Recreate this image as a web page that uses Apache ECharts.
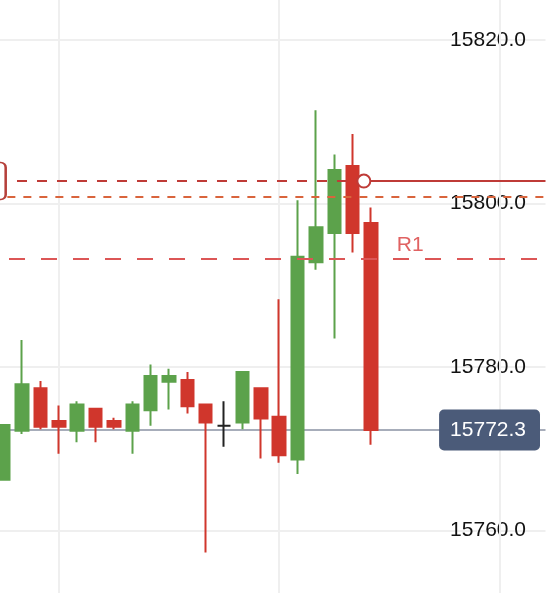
<!DOCTYPE html>
<html><head><meta charset="utf-8">
<script src="https://cdn.jsdelivr.net/npm/echarts@6/dist/echarts.min.js"></script>
<style>html,body{margin:0;padding:0;background:#fff}#c{width:546px;height:593px}</style>
</head><body><div id="c"></div>
<script>
// ---- data ----
const categories = ['1','2','3','4','5','6','7','8','9','10','11','12','13','14','15','16','17','18','19','20','21','22','23','24','25','26','27','28','29','30'];
const opens  = [15766.2,15772.2,15777.4,15773.4,15772.2,15774.9,15773.4,15772.2,15774.7,15778.2,15778.4,15775.4,15772.8,15773.2,15777.4,15773.9,15768.7,15792.8,15796.4,15804.6,15797.6];
const closes = [15772.9,15777.9,15772.7,15772.7,15775.4,15772.7,15772.7,15775.4,15778.9,15778.9,15775.2,15773.2,15772.8,15779.4,15773.7,15769.2,15793.5,15797.1,15804.1,15796.4,15772.3];
const lows   = [15766.2,15771.8,15772.4,15769.4,15770.8,15770.8,15772.4,15769.4,15772.8,15774.8,15774.3,15757.3,15770.25,15772.4,15768.8,15768.3,15766.9,15791.9,15783.5,15794.0,15770.5];
const highs  = [15772.9,15783.3,15778.3,15775.3,15775.8,15774.9,15773.8,15775.8,15780.3,15779.8,15779.4,15775.4,15775.8,15779.4,15777.4,15788.3,15800.4,15811.4,15806.0,15808.5,15799.5];
const yMin = 15740, yMax = 15840, yStep = 20;
const lastPrice = 15772.3;
const verticalGridIdx = [3, 15, 27];
const alertLevel = 15802.75, alertStartIdx = 0.725, alertIdx = 19.61, xEndIdx = 29.5;
const level2 = 15800.8, level2StartIdx = 0.2;
const r1Level = 15793.2, r1StartIdx = 0.29, r1LabelIdx = 22.13, r1Text = 'R1';

const FONT = "'Liberation Sans', Arial, Helvetica, sans-serif";
const GREEN = '#5ca24b', RED = '#d0362c';
const BOX_PATH = 'path://M5,0 H55 A5,5 0 0 1 60,5 V33 A5,5 0 0 1 55,38 H5 A5,5 0 0 1 0,33 V5 A5,5 0 0 1 5,0 Z';

const candleData = opens.map((o, i) => [o, closes[i], lows[i], highs[i]]);

const chart = echarts.init(document.getElementById('c'), null, {renderer: 'canvas'});
chart.setOption({
  animation: false,
  backgroundColor: '#ffffff',
  grid: {left: -5.5, right: 0.5, top: -123.5, bottom: -101, containLabel: false, outerBoundsMode: 'none'},
  xAxis: [
    {type: 'category', data: categories, boundaryGap: true,
     axisLine: {show: false}, axisTick: {show: false}, axisLabel: {show: false}, splitLine: {show: false}},
    {type: 'value', min: -0.5, max: 29.5, show: false}
  ],
  yAxis: {
    type: 'value', position: 'right', min: yMin, max: yMax, interval: yStep,
    axisLine: {show: false}, axisTick: {show: false},
    axisLabel: {inside: true, margin: 19.5, color: '#111', fontSize: 21, fontFamily: FONT,
                formatter: v => v.toFixed(1)},
    splitLine: {show: true, lineStyle: {color: '#efefef', width: 2}}
  },
  series: [
    {
      type: 'candlestick', xAxisIndex: 0, data: candleData, barWidth: 13, z: 2,
      itemStyle: {color: GREEN, color0: RED, borderColor: GREEN, borderColor0: RED,
                  borderColorDoji: '#222222', borderWidth: 2},
      markLine: {
        silent: true, symbol: ['none', 'none'], z: 1, animation: false,
        data: [
          ...verticalGridIdx.map(i => ({xAxis: i, lineStyle: {color: '#efefef', width: 2, type: 'solid'}, label: {show: false}})),
          {yAxis: lastPrice, lineStyle: {color: '#a7adba', width: 2, type: 'solid'},
           label: {show: true, position: 'insideEnd', distance: 5.5, formatter: p => p.value.toFixed(1),
                   color: '#ffffff', fontSize: 21, fontFamily: FONT, lineHeight: 21,
                   backgroundColor: '#4b5b79', borderRadius: 5, padding: [10, 14, 10, 11]}}
        ]
      }
    },
    {
      type: 'line', xAxisIndex: 1, z: 5, silent: true, symbol: 'none',
      data: [[alertStartIdx, alertLevel], [alertIdx, alertLevel]],
      lineStyle: {color: '#bf3b37', width: 2, type: [10, 10]},
      markPoint: {
        silent: true, z: 6, animation: false,
        data: [{coord: [0, alertLevel], symbol: BOX_PATH, symbolKeepAspect: false, symbolSize: [60, 37], symbolOffset: [-28, 0],
                itemStyle: {color: '#ffffff', borderColor: '#b5403b', borderWidth: 2}, label: {show: false}}]
      }
    },
    {
      type: 'line', xAxisIndex: 1, z: 5, silent: true, showSymbol: true,
      data: [
        {value: [alertIdx, alertLevel], symbol: 'circle', symbolSize: 13,
         itemStyle: {color: '#ffffff', borderColor: '#bf3b37', borderWidth: 2}},
        {value: [xEndIdx, alertLevel], symbol: 'none'}
      ],
      lineStyle: {color: '#bf3b37', width: 2, type: 'solid'}
    },
    {
      type: 'line', xAxisIndex: 1, z: 5, silent: true, symbol: 'none',
      data: [[level2StartIdx, level2], [xEndIdx, level2]],
      lineStyle: {color: '#d9643c', width: 2, type: [8, 8]}
    },
    {
      type: 'line', xAxisIndex: 1, z: 5, silent: true, symbol: 'none',
      data: [[r1StartIdx, r1Level], [xEndIdx, r1Level]],
      lineStyle: {color: '#dc5656', width: 2, type: [16, 16]},
      markPoint: {
        silent: true, animation: false,
        data: [{coord: [r1LabelIdx, r1Level], symbol: 'circle', symbolSize: 1,
                itemStyle: {color: 'rgba(0,0,0,0)'},
                label: {show: true, position: 'top', distance: 3, formatter: r1Text,
                        color: '#e06262', fontSize: 21, fontFamily: FONT}}]
      }
    }
  ]
});
</script></body></html>
